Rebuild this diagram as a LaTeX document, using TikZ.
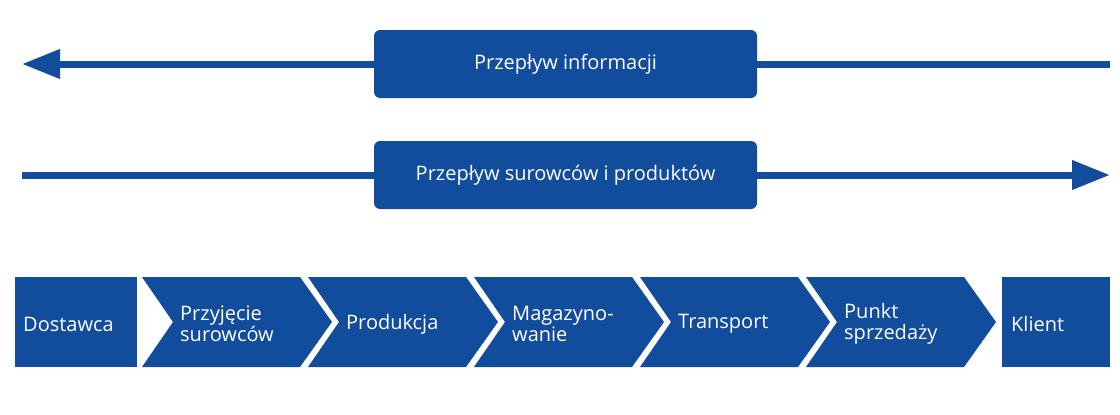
\documentclass[tikz,border=0pt]{standalone}
\usepackage{fontspec}
\setmainfont{Open Sans}
\usepackage{xcolor}
\usetikzlibrary{arrows.meta}
\definecolor{flowblue}{RGB}{18,76,156}
\tikzstyle{node:flowbox}=[rectangle,rounded corners=6pt,fill=flowblue,text=white,minimum width=383pt,minimum height=68pt,font=\fontsize{20}{22}\selectfont]
\tikzstyle{node:steplabel}=[anchor=west,align=left,text=white,inner sep=0pt,font=\fontsize{20}{21}\selectfont]
\tikzstyle{draw:flowline}=[flowblue,line width=7pt,-{Triangle[length=38pt,width=28pt]}]

\begin{document}
\begin{tikzpicture}[x=1pt,y=-1pt]
        \useasboundingbox (0,0) rectangle (1120,415);

        % Information flow (right to left)
        \coordinate (I-start) at (1110,64);
        \coordinate (I-end) at (22,64);
        \draw[draw:flowline] (I-start) -- (I-end);
        \node[node:flowbox] (info) at (565.5,64) {Przepływ informacji};

        % Material flow (left to right)
        \coordinate (M-start) at (22,175);
        \coordinate (M-end) at (1110,175);
        \draw[draw:flowline] (M-start) -- (M-end);
        \node[node:flowbox] (material) at (565.5,175) {Przepływ surowców i produktów};

        % Supplier and client boxes
        \fill[flowblue] (15,277) rectangle (137,367);
        \node[node:steplabel] (S-0) at (23,324) {Dostawca};
        \fill[flowblue] (1002,277) rectangle (1110,367);
        \node[node:steplabel] (S-6) at (1011,324) {Klient};

        % Chevrons
        \foreach \i/\txt in {1/{Przyjęcie\\surowców},2/Produkcja,3/{Magazyno-\\wanie},4/Transport,5/{Punkt\\sprzedaży}} {
                \pgfmathsetmacro{\xo}{142+166*(\i-1)}
                \fill[flowblue] (\xo,277) -- ++(158,0) -- ++(32,45) -- ++(-32,45)
                    -- ++(-158,0) -- ++(31,-45) -- cycle;
                \node[node:steplabel] (S-\i) at (\xo+38,324) {\txt};
            }

    \end{tikzpicture}
\end{document}
